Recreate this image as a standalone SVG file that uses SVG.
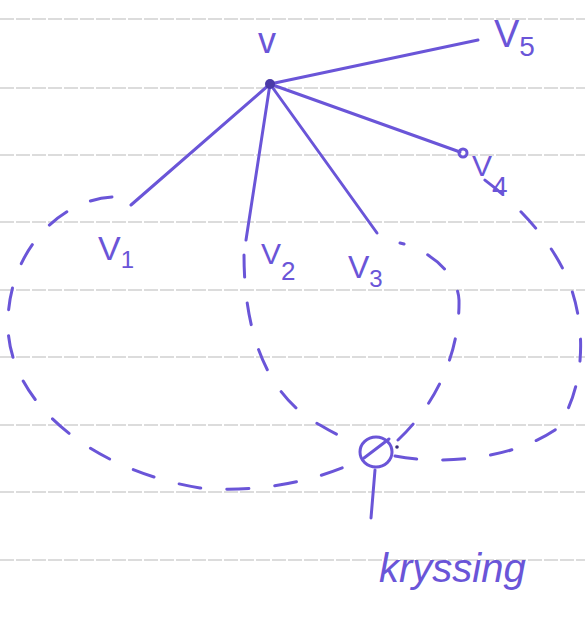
<svg xmlns="http://www.w3.org/2000/svg" width="585" height="621" viewBox="0 0 585 621">
<style>
.rule{stroke:#b9b9b9;stroke-width:1.2;stroke-dasharray:14 2}
.ink{stroke:#6a55d8;stroke-width:3;fill:none;stroke-linecap:round;stroke-linejoin:round}
.edge{stroke:#6a55d8;stroke-width:3;fill:none;stroke-linecap:round}
.dash{stroke:#6a55d8;stroke-width:3;fill:none;stroke-linecap:round;stroke-dasharray:22 26}
.lbl{font-family:"Liberation Sans",Arial,sans-serif;fill:#6a55d8}
</style>
<rect width="585" height="621" fill="#ffffff"/>
<g id="paper">
<line class="rule" x1="0" y1="19" x2="585" y2="19"/>
<line class="rule" x1="0" y1="88" x2="585" y2="88"/>
<line class="rule" x1="0" y1="155" x2="585" y2="155"/>
<line class="rule" x1="0" y1="222" x2="585" y2="222"/>
<line class="rule" x1="0" y1="290" x2="585" y2="290"/>
<line class="rule" x1="0" y1="357" x2="585" y2="357"/>
<line class="rule" x1="0" y1="425" x2="585" y2="425"/>
<line class="rule" x1="0" y1="492" x2="585" y2="492"/>
<line class="rule" x1="0" y1="560" x2="585" y2="560"/>
</g>
<g id="connectors">
<line class="edge" x1="270" y1="84" x2="478" y2="40"/>
<line class="edge" x1="270" y1="84" x2="460" y2="152"/>
<line class="edge" x1="270" y1="84" x2="377" y2="233"/>
<line class="edge" x1="270" y1="84" x2="246" y2="240"/>
<line class="edge" x1="270" y1="84" x2="131" y2="205"/>
</g>
<g id="cycles">
<path class="dash" d="M112,197 C60,200 10,250 8,320 C5,400 90,470 200,488 C280,495 340,470 360,460 M398,440 C430,410 460,360 459,300 C458,275 430,250 400,243"/>
<path class="dash" d="M244,255 C244,330 265,395 320,425 C340,437 350,440 358,443 M395,456 C440,465 510,460 555,430 C580,400 590,340 570,285 C555,245 520,205 478,175"/>
</g>
<g id="v">
<circle cx="270" cy="84" r="5" fill="#4a3aa8"/>
<text class="lbl" x="258" y="53" font-size="36">v</text>
</g>
<g id="v5">
<text class="lbl" x="494" y="47" font-size="38">V<tspan font-size="28" dy="9">5</tspan></text>
</g>
<g id="v4">
<circle class="ink" cx="463" cy="153" r="4" stroke-width="2"/>
<text class="lbl" x="472" y="176" font-size="30">V<tspan font-size="28" dy="20">4</tspan></text>
</g>
<g id="v3">
<text class="lbl" x="348" y="278" font-size="32">V<tspan font-size="24" dy="9">3</tspan></text>
</g>
<g id="v2">
<text class="lbl" x="261" y="264" font-size="30">V<tspan font-size="26" dy="16">2</tspan></text>
</g>
<g id="v1">
<text class="lbl" x="98" y="260" font-size="34">V<tspan font-size="24" dy="8">1</tspan></text>
</g>
<g id="crossing">
<ellipse class="ink" cx="376" cy="452" rx="16" ry="15"/>
<line class="ink" x1="364" y1="458" x2="389" y2="439"/>
<circle cx="397" cy="447" r="1.8" fill="#3a2f7a"/>
<line class="ink" x1="375" y1="470" x2="371" y2="518"/>
<text class="lbl" x="379" y="582" font-size="40" font-style="italic">kryssing</text>
</g>
</svg>
